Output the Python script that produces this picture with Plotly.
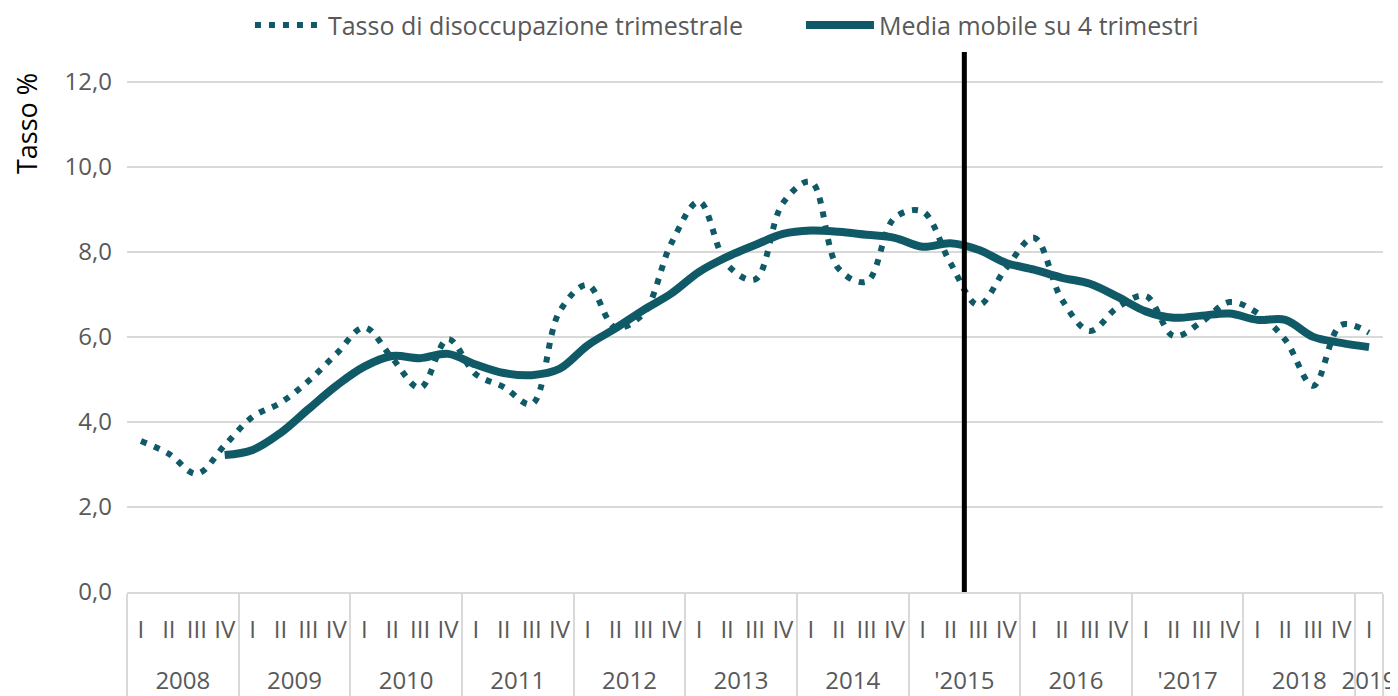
import plotly.graph_objects as go

# ---- data ----
years = ["2008", "2009", "2010", "2011", "2012", "2013", "2014",
         "'2015", "2016", "'2017", "2018", "2019"]
quarters = ["I", "II", "III", "IV"]
quarters_2019 = ["I"]

tasso_trimestrale = [
    3.55, 3.25, 2.78, 3.45,   # 2008
    4.12, 4.45, 4.96, 5.60,   # 2009
    6.22, 5.50, 4.80, 5.95,   # 2010
    5.12, 4.82, 4.42, 6.60,   # 2011
    7.22, 6.22, 6.55, 8.20,   # 2012
    9.18, 7.70, 7.35, 9.15,   # 2013
    9.65, 7.60, 7.30, 8.80,   # 2014
    8.95, 7.74, 6.75, 7.62,   # 2015
    8.33, 6.87, 6.14, 6.70,   # 2016
    6.96, 6.02, 6.35, 6.82,   # 2017
    6.56, 5.93, 4.85, 6.28,   # 2018
    6.10,                     # 2019
]

media_mobile = [
    3.22,                     # 2008 IV
    3.34, 3.74, 4.30, 4.85,   # 2009
    5.30, 5.55, 5.50, 5.60,   # 2010
    5.35, 5.15, 5.10, 5.25,   # 2011
    5.80, 6.20, 6.63, 7.02,   # 2012
    7.53, 7.88, 8.16, 8.42,   # 2013
    8.50, 8.47, 8.40, 8.33,   # 2014
    8.12, 8.20, 8.05, 7.74,   # 2015
    7.58, 7.39, 7.25, 6.94,   # 2016
    6.60, 6.45, 6.50, 6.55,   # 2017
    6.40, 6.40, 6.00, 5.86,   # 2018
    5.76,                     # 2019
]
ma_start_index = 3            # moving average starts at 2008 IV
break_after = ("'2015", "II")  # vertical marker placed after this quarter

# ---- build multicategory x ----
# year labels get a leading blank line so the year row sits lower, as in the reference
x_year, x_q = [], []
for y in years:
    qs = quarters_2019 if y == "2019" else quarters
    for q in qs:
        x_year.append("<br>" + y)
        x_q.append(q)

teal = "#0f5a66"
grey_text = "#595959"
font_family = "Open Sans, Liberation Sans, sans-serif"

fig = go.Figure()
fig.add_trace(go.Scatter(
    x=[x_year, x_q], y=tasso_trimestrale,
    mode="lines", name="Tasso di disoccupazione trimestrale",
    line=dict(color=teal, width=6, dash="6px,8px", shape="spline", smoothing=1.0),
))
fig.add_trace(go.Scatter(
    x=[x_year[ma_start_index:], x_q[ma_start_index:]], y=media_mobile,
    mode="lines", name="Media mobile su 4 trimestri",
    line=dict(color=teal, width=8, shape="spline", smoothing=1.0),
))

n = len(x_q)
idx = [i for i in range(n) if (x_year[i], x_q[i]) == ("<br>" + break_after[0], break_after[1])][0]
xpos = (idx + 1) / n  # boundary after the quarter, in paper units (range -0.5..n-0.5)
y_top = 12.7
fig.add_shape(type="line", xref="paper", yref="y", x0=xpos, x1=xpos, y0=0, y1=y_top,
              line=dict(color="black", width=5))

fig.add_annotation(text="Tasso %", xref="paper", yref="paper",
                   x=-0.0796, y=0.8667, xanchor="center", yanchor="middle",
                   textangle=-90, showarrow=False,
                   font=dict(family=font_family, size=27, color="black"))

fig.update_layout(
    width=1390, height=688,
    margin=dict(l=119, r=15, t=44, b=104, autoexpand=False),
    plot_bgcolor="white", paper_bgcolor="white",
    separators=",.",
    font=dict(family=font_family, color=grey_text, size=22),
    showlegend=True,
    legend=dict(orientation="h", x=0.0979, xanchor="left",
                yref="container", y=0.975, yanchor="middle",
                font=dict(size=25, color=grey_text), itemwidth=68,
                entrywidth=468,
                bgcolor="rgba(0,0,0,0)"),
)
fig.update_yaxes(range=[0, y_top], tick0=0, dtick=2, tickformat=".1f",
                 showgrid=True, gridcolor="#d9d9d9", gridwidth=1.5,
                 zeroline=False, showline=False, ticklabelstandoff=14,
                 tickfont=dict(size=24, color=grey_text))
fig.update_xaxes(type="multicategory", range=[-0.5, n - 0.5],
                 tickmode="linear", tick0=0, dtick=1,
                 showgrid=False, showline=True,
                 linecolor="#d9d9d9", linewidth=1.5,
                 showdividers=True, dividercolor="#d9d9d9", dividerwidth=1.5,
                 ticklabelstandoff=15, tickangle=0,
                 tickfont=dict(size=24, color=grey_text))

fig.write_html("out.html")
